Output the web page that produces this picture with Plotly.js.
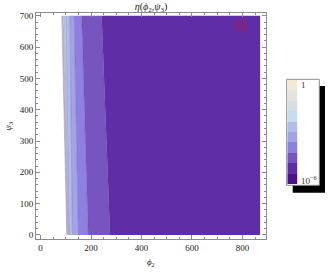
<!DOCTYPE html>
<html>
<head>
<meta charset="utf-8">
<script src="https://cdn.plot.ly/plotly-3.0.1.min.js"></script>
<style>html,body{margin:0;padding:0;background:#fff}#chart{width:333px;height:272px}</style>
</head>
<body>
<div id="chart"></div>
<script>
// ---- data ----
// contour band colours, from the top of the legend (1) to the bottom (10^-6)
const bandColors = ['#f3e9d6','#e4e3dd','#d5dee3','#c5dcec','#b0bdea','#a2a4e6','#8e80e2','#7755c0','#5f2ea6','#4b128c'];
const legendLabels = ['1', '10<sup>\u22126</sup>'];
// phi2 position of each contour boundary (white edge -> right data edge) at psi3 = 0 and psi3 = 700
const phi2AtPsiLow  = [104, 105.5, 108, 110.5, 113, 126, 150, 189, 275.5, 870];
const phi2AtPsiHigh = [84, 87, 89.5, 94.5, 101, 116.5, 133, 163, 242, 870];
const psi3Span = [0, 700];
// marked point (red circle)
const markPhi2 = [793];
const markPsi3 = [669];
const xTicks = [0, 200, 400, 600, 800];
const yTicks = [0, 100, 200, 300, 400, 500, 600, 700];

const W = 333, H = 272;
const serif = 'Liberation Serif, Times New Roman, serif';
const traces = [];
for (let i = 0; i < phi2AtPsiLow.length; i++) {
  const last = i === phi2AtPsiLow.length - 1;
  traces.push({
    type: 'scatter', mode: 'lines',
    x: [phi2AtPsiLow[i], phi2AtPsiHigh[i]], y: psi3Span,
    line: {color: last ? 'rgba(0,0,0,0)' : 'rgba(85,55,140,0.45)', width: last ? 0 : 0.6},
    fill: i === 0 ? 'none' : 'tonextx',
    fillcolor: i === 0 ? undefined : bandColors[i - 1],
    hoverinfo: 'skip', showlegend: false, xaxis: 'x', yaxis: 'y'
  });
}
traces.push({
  type: 'scatter', mode: 'markers', x: markPhi2, y: markPsi3,
  marker: {symbol: 'circle-open', size: 9, color: '#d0102a', line: {width: 1.2, color: '#d0102a'}},
  hoverinfo: 'skip', showlegend: false, xaxis: 'x', yaxis: 'y'
});
// legend strip
const n = bandColors.length;
const legZ = [], legY = [], legScale = [];
for (let i = 0; i < n; i++) {
  legZ.push([i]); legY.push(i);
  legScale.push([i / (n - 1), bandColors[n - 1 - i]]);
}
traces.push({
  type: 'heatmap', z: legZ, x: [0], y: legY, colorscale: legScale, zmin: 0, zmax: n - 1,
  showscale: false, hoverinfo: 'skip', xaxis: 'x2', yaxis: 'y2'
});

const px = v => v / W, py = v => 1 - v / H;
const axisCommon = {
  showline: true, linecolor: '#8c8c8c', linewidth: 1, mirror: 'allticks',
  ticks: 'inside', ticklen: 4, tickcolor: '#8c8c8c', tickwidth: 1,
  showgrid: false, zeroline: false,
  tickfont: {family: serif, size: 9, color: '#222'}
};
const layout = {
  width: W, height: H,
  margin: {l: 0, r: 0, t: 0, b: 0},
  paper_bgcolor: '#ffffff', plot_bgcolor: 'rgba(0,0,0,0)',
  showlegend: false,
  title: {text: '<i>\u03b7</i>(<i>\u03d5</i><sub>2</sub>,<i>\u03c8</i><sub>3</sub>)',
          x: px(151), xanchor: 'center', y: py(6), yanchor: 'middle',
          font: {family: serif, size: 10, color: '#222'}},
  xaxis: Object.assign({}, axisCommon, {
    domain: [px(36), px(265.7)], range: [-18, 892], tickvals: xTicks, anchor: 'y',
    minor: {ticks: 'inside', ticklen: 2, dtick: 50, tickcolor: '#8c8c8c'},
    title: {text: '<i>\u03d5</i><sub>2</sub>', font: {family: serif, size: 9, color: '#222'}, standoff: 6}
  }),
  yaxis: Object.assign({}, axisCommon, {
    domain: [py(239.3), py(13.3)], range: [-14, 708], tickvals: yTicks, anchor: 'x',
    minor: {ticks: 'inside', ticklen: 2, dtick: 20, tickcolor: '#8c8c8c'},
    title: {text: '<i>\u03c8</i><sub>3</sub>', font: {family: serif, size: 9, color: '#222'}, standoff: 6}
  }),
  xaxis2: {domain: [px(287.3), px(297.7)], visible: false, fixedrange: true, anchor: 'y2'},
  yaxis2: {domain: [py(184.3), py(80)], visible: false, fixedrange: true, anchor: 'x2', range: [-0.5, n - 0.5]},
  shapes: [
    {type: 'rect', xref: 'paper', yref: 'paper', x0: px(292.7), x1: px(325), y0: py(192.7), y1: py(86),
     fillcolor: '#000', line: {width: 0}, layer: 'below'},
    {type: 'rect', xref: 'paper', yref: 'paper', x0: px(286.7), x1: px(319.3), y0: py(185.3), y1: py(79.3),
     fillcolor: '#fff', line: {width: 1, color: '#8c8c8c'}, layer: 'below'}
  ],
  annotations: [
    {xref: 'paper', yref: 'paper', x: px(298.5), y: py(84.5), xanchor: 'left', yanchor: 'middle',
     text: legendLabels[0], showarrow: false, font: {family: serif, size: 9, color: '#333'}},
    {xref: 'paper', yref: 'paper', x: px(298.5), y: py(180), xanchor: 'left', yanchor: 'middle',
     text: legendLabels[1], showarrow: false, font: {family: serif, size: 9, color: '#333'}}
  ]
};
Plotly.newPlot('chart', traces, layout, {staticPlot: true, displayModeBar: false});
</script>
</body>
</html>
